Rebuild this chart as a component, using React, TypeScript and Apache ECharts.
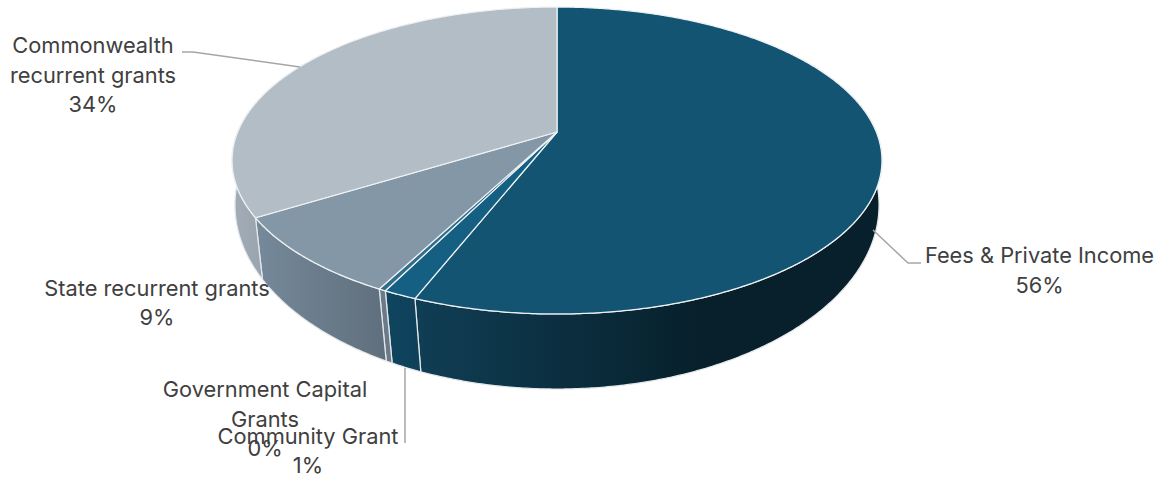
import React, { useEffect, useRef } from "react";
import * as echarts from "echarts";

// Income sources, in drawing order clockwise from twelve o'clock.
const categories = [
  "Fees & Private Income",
  "Community Grant",
  "Government Capital\nGrants",
  "State recurrent grants",
  "Commonwealth\nrecurrent grants",
];
const shares = [56.0, 1.4, 0.3, 8.55, 33.75];

const topColors = ["#125471", "#156082", "#2f6d8c", "#8497a6", "#b3bdc6"];
const wallStops: [string, string][] = [
  ["#103e55", "#07202b"],
  ["#0f4560", "#0f4059"],
  ["#6a7a88", "#6a7a88"],
  ["#75899a", "#5f6e7c"],
  ["#a3adb7", "#98a3ad"],
];
const wallGradientSpan: [number, number][] = [
  [415, 700],
  [386, 420],
  [380, 390],
  [258, 388],
  [232, 264],
];

// Label anchors (centre x, centre y of the text block) for each category.
const labelAnchors: [number, number][] = [
  [1039.5, 270],
  [308, 450.5],
  [265, 418.5],
  [157, 302.5],
  [93, 74.5],
];
const leaderLines: [number, number][][] = [
  [[873, 230], [908, 263], [921, 263]],
  [[405, 368], [405, 443]],
  [[300, 67], [193, 52], [182, 52]],
];

// Perspective disc: rim is a projective image of a unit circle.
const CX = 557;
const topRim = { c: 132, a: 319.3, b: 148.2, k: 0.1857 };
const bottomRim = { c: 177.4, a: 318.4, b: 179.9, k: 0.15 };

type Rim = typeof topRim;

function project(rim: Rim, deg: number): number[] {
  const t = (deg * Math.PI) / 180;
  const X = Math.sin(t);
  const Y = -Math.cos(t);
  const w = 1 - rim.k * Y;
  return [CX + (rim.a * X) / w, rim.c + (rim.b * Y) / w];
}

function arc(rim: Rim, from: number, to: number): number[][] {
  const pts: number[][] = [];
  const steps = Math.max(2, Math.ceil(Math.abs(to - from) * 2));
  for (let i = 0; i <= steps; i++) {
    pts.push(project(rim, from + ((to - from) * i) / steps));
  }
  return pts;
}

const total = shares.reduce((s, v) => s + v, 0);
const bounds: number[] = [0];
shares.forEach((v) => bounds.push(bounds[bounds.length - 1] + (v / total) * 360));

const FONT = 'Inter, "Noto Sans", sans-serif';

export default function App() {
  const ref = useRef<HTMLDivElement>(null);

  useEffect(() => {
    document.body.style.margin = "0";
    const chart = echarts.init(ref.current!, null, { renderer: "svg" });

    const renderWall = (params: any) => {
      const i = params.dataIndex;
      // Only the part of the side facing the viewer is ever seen.
      const from = Math.max(bounds[i], 60);
      const to = Math.min(bounds[i + 1], 300);
      if (to <= from) return { type: "group", children: [] };
      const points = [...arc(topRim, from, to), ...arc(bottomRim, to, from)];
      const [x, x2] = wallGradientSpan[i];
      return {
        type: "polygon",
        shape: { points },
        style: {
          fill: {
            type: "linear",
            x,
            y: 0,
            x2,
            y2: 0,
            global: true,
            colorStops: [
              { offset: 0, color: wallStops[i][0] },
              { offset: 1, color: wallStops[i][1] },
            ],
          },
          stroke: "#e4e8ea",
          lineWidth: 1.25,
        },
      };
    };

    const renderTop = (params: any) => {
      const i = params.dataIndex;
      const apex = [CX, topRim.c];
      return {
        type: "polygon",
        shape: { points: [apex, ...arc(topRim, bounds[i], bounds[i + 1])] },
        style: { fill: topColors[i], stroke: "#eef1f3", lineWidth: 1.25 },
      };
    };

    const labels = categories.map((name, i) => ({
      type: "text",
      silent: true,
      z: 10,
      style: {
        text: `${name}\n${Math.round((shares[i] / total) * 100)}%`,
        x: labelAnchors[i][0],
        y: labelAnchors[i][1],
        align: "center",
        verticalAlign: "middle",
        font: `21.8px ${FONT}`,
        lineHeight: 29.5,
        fill: "#404040",
      },
    }));

    const leaders = leaderLines.map((points) => ({
      type: "polyline",
      silent: true,
      z: 9,
      shape: { points },
      style: { stroke: "#a6a6a6", lineWidth: 1.5, fill: "none" },
    }));

    chart.setOption({
      animation: false,
      backgroundColor: "#ffffff",
      series: [
        {
          type: "custom",
          coordinateSystem: "none",
          silent: true,
          z: 1,
          data: shares.map((v) => [v]),
          renderItem: (params: any) => renderWall(params),
        },
        {
          type: "custom",
          coordinateSystem: "none",
          silent: true,
          z: 2,
          data: shares.map((v) => [v]),
          renderItem: (params: any) => renderTop(params),
        },
      ],
      graphic: [...leaders, ...labels],
    });

    return () => chart.dispose();
  }, []);

  return <div ref={ref} style={{ width: 1165, height: 477 }} />;
}
